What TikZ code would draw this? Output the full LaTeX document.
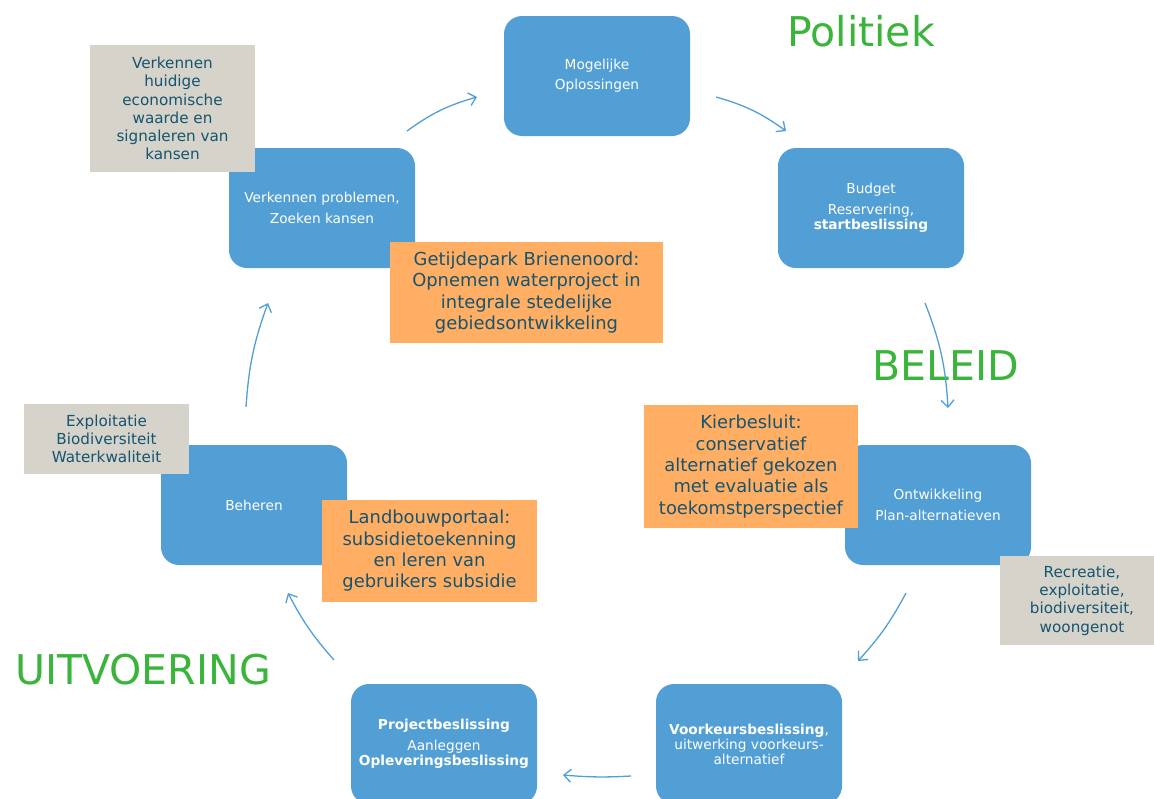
\documentclass[tikz,border=0pt]{standalone}
\usepackage{fontspec}
\setmainfont{DejaVu Sans}
\usetikzlibrary{arrows.meta}

\definecolor{stageblue}{RGB}{82,159,214}
\definecolor{casusorange}{RGB}{255,174,99}
\definecolor{notegray}{RGB}{213,211,202}
\definecolor{notetext}{RGB}{22,84,112}
\definecolor{phasegreen}{RGB}{58,180,58}

\tikzset{
	stage/.style={fill=stageblue, rounded corners=18pt, minimum width=186pt, minimum height=120pt, text=white, align=center, font=\fontsize{13.7}{15}\selectfont},
	note/.style={fill=notegray, minimum width=165pt, text=notetext, align=center, inner sep=0pt, font=\fontsize{15.2}{18.2}\selectfont},
	casus/.style={fill=casusorange, text=notetext, align=center, inner sep=0pt, font=\fontsize{17.9}{21.3}\selectfont},
	phase/.style={text=phasegreen, inner sep=0pt, font=\fontsize{41}{44}\selectfont},
	cycle/.style={draw=stageblue, line width=1.3pt, -{Straight Barb[length=7pt,width=13pt]}}
}

\begin{document}
\begin{tikzpicture}[x=1pt, y=-1pt]
	
	\useasboundingbox (0,0) rectangle (1154,798);
	
	\node[stage] (oplossingen) at (597,76) {Mogelijke\\[5pt]Oplossingen};
	\node[stage] (verkennen) at (322,208) {Verkennen problemen,\\[6pt]Zoeken kansen};
	\node[stage] (budget) at (871,208) {Budget\\[6pt]Reservering,\\\textbf{startbeslissing}};
	\node[stage] (ontwikkeling) at (938,505) {Ontwikkeling\\[6pt]Plan-alternatieven};
	\node[stage] (voorkeur) at (749,744) {\textbf{Voorkeursbeslissing},\\uitwerking voorkeurs-\\alternatief};
	\node[stage] (project) at (444,744) {\textbf{Projectbeslissing}\\[6pt]Aanleggen\\\textbf{Opleveringsbeslissing}};
	\node[stage] (beheren) at (254,505) {Beheren};
	
	\node[note, minimum height=127pt] (huidig) at (172.5,108.5) {Verkennen\\huidige\\economische\\waarde en\\signaleren van\\kansen};
	\node[note, minimum height=70pt] (exploitatie) at (106.5,439) {Exploitatie\\Biodiversiteit\\Waterkwaliteit};
	\node[note, minimum height=89pt] (recreatie) at (1082,600.5) {Recreatie,\\exploitatie,\\biodiversiteit,\\woongenot};
	
	\node[casus, minimum width=273pt, minimum height=101pt] (getijdepark) at (526.5,292.5) {Getijdepark Brienenoord:\\Opnemen waterproject in\\integrale stedelijke\\gebiedsontwikkeling};
	\node[casus, minimum width=214pt, minimum height=123pt] (kierbesluit) at (751,466.5) {Kierbesluit:\\conservatief\\alternatief gekozen\\met evaluatie als\\toekomstperspectief};
	\node[casus, minimum width=215pt, minimum height=102pt] (landbouw) at (429.5,551) {Landbouwportaal:\\subsidietoekenning\\en leren van\\gebruikers subsidie};
	
	\node[phase] (politiek) at (861,31) {Politiek};
	\node[phase] (beleid) at (946,366) {BELEID};
	\node[phase] (uitvoering) at (143,670) {UITVOERING};
	
	\coordinate (verkennenout) at (407,131);
	\coordinate (oplossingenin) at (477,97);
	\coordinate (oplossingenout) at (716,97);
	\coordinate (budgetin) at (786,131);
	\coordinate (budgetout) at (925,303);
	\coordinate (ontwikkelingin) at (948,408);
	\coordinate (ontwikkelingout) at (906,593);
	\coordinate (voorkeurin) at (858,661);
	\coordinate (voorkeurout) at (631,776);
	\coordinate (projectin) at (563,775);
	\coordinate (projectout) at (334,660);
	\coordinate (beherenin) at (288,593);
	\coordinate (beherenout) at (246,407);
	\coordinate (verkennenin) at (268,303);
	
	\draw[cycle] (verkennenout) to[bend left=10] (oplossingenin);
	\draw[cycle] (oplossingenout) to[bend left=10] (budgetin);
	\draw[cycle] (budgetout) to[bend left=9] (ontwikkelingin);
	\draw[cycle] (ontwikkelingout) to[bend left=7] (voorkeurin);
	\draw[cycle] (voorkeurout) to[bend left=4] (projectin);
	\draw[cycle] (projectout) to[bend left=7] (beherenin);
	\draw[cycle] (beherenout) to[bend left=8] (verkennenin);
	
\end{tikzpicture}
\end{document}
